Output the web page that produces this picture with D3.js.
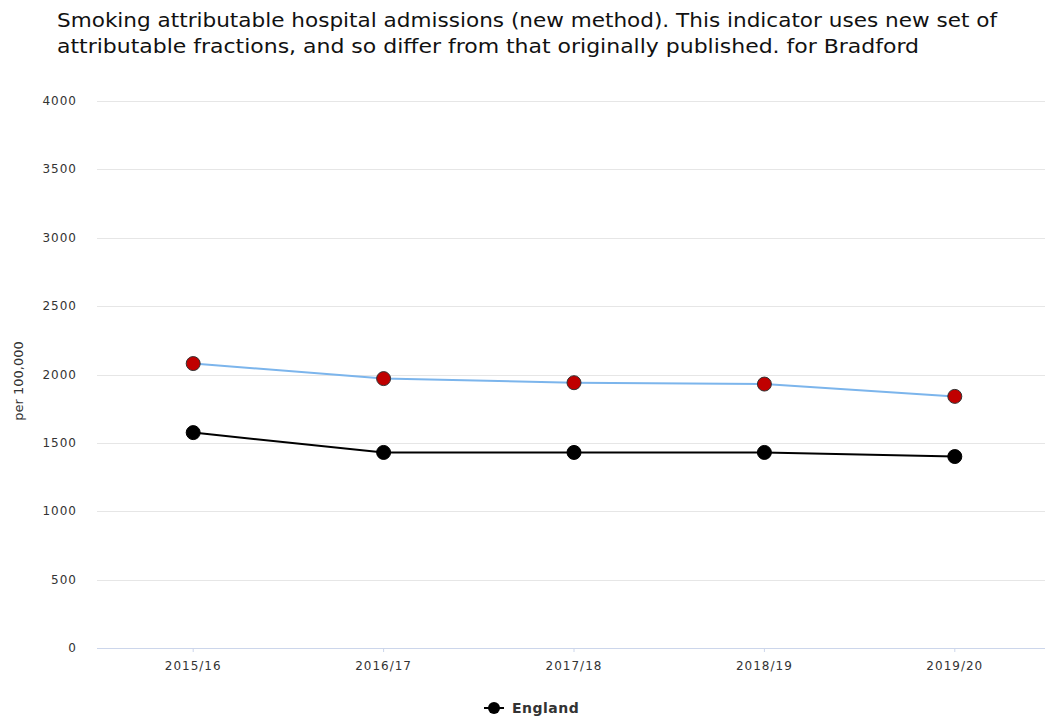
<!DOCTYPE html>
<html>
<head>
<meta charset="utf-8">
<script src="https://cdn.jsdelivr.net/npm/d3@7"></script>
<style>
  body { margin: 0; background: #fff; }
  text { font-family: "DejaVu Sans", sans-serif; }
</style>
</head>
<body>
<script>
var periods = ["2015/16", "2016/17", "2017/18", "2018/19", "2019/20"];
var bradford = [2080, 1970, 1940, 1930, 1840];
var england = [1575, 1430, 1430, 1430, 1400];
var yTicks = [0, 500, 1000, 1500, 2000, 2500, 3000, 3500, 4000];
var titleLines = [
  "Smoking attributable hospital admissions (new method). This indicator uses new set of",
  "attributable fractions, and so differ from that originally published. for Bradford"
];
var titleWidths = [940, 862];

function init() {
  var width = 1045, height = 718,
      margin = {left: 98, right: -5};

  var svg = d3.select("body").append("svg")
    .attr("width", width)
    .attr("height", height);

  svg.append("g").selectAll("text")
    .data(titleLines)
    .enter().append("text")
    .attr("x", 57)
    .attr("y", function (d, i) { return 27 + i * 26; })
    .attr("textLength", function (d, i) { return titleWidths[i]; })
    .attr("lengthAdjust", "spacingAndGlyphs")
    .style("font-size", "20px")
    .style("fill", "#111")
    .text(function (d) { return d; });

  var x = d3.scaleBand()
    .domain(periods)
    .range([margin.left, width - margin.right]);

  var y = d3.scaleLinear()
    .domain([0, 4000])
    .range([648, 101]);

  var cx = function (i) { return x(periods[i]) + x.bandwidth() / 2; };

  // grid
  svg.append("g").selectAll("line")
    .data(yTicks.slice(1))
    .enter().append("line")
    .attr("x1", 97).attr("x2", width)
    .attr("y1", function (d) { return Math.round(y(d)) + 0.5; })
    .attr("y2", function (d) { return Math.round(y(d)) + 0.5; })
    .style("stroke", "#e6e6e6");

  // y labels
  svg.append("g").selectAll("text")
    .data(yTicks)
    .enter().append("text")
    .attr("x", 77)
    .attr("y", function (d) { return y(d) + 4; })
    .attr("text-anchor", "end")
    .style("font-size", "12px")
    .style("letter-spacing", "1px")
    .style("fill", "#333")
    .text(function (d) { return d; });

  svg.append("text")
    .attr("transform", "translate(23,381) rotate(-90)")
    .attr("text-anchor", "middle")
    .style("font-size", "13px")
    .style("fill", "#333")
    .text("per 100,000");

  // x axis
  var xAxis = svg.append("g").attr("transform", "translate(0,648)");
  xAxis.append("line")
    .attr("x1", 97).attr("x2", width)
    .attr("y1", 0.5).attr("y2", 0.5)
    .style("stroke", "#ccd6eb");
  xAxis.selectAll("line.tick")
    .data(periods)
    .enter().append("line")
    .attr("class", "tick")
    .attr("x1", function (d, i) { return cx(i); })
    .attr("x2", function (d, i) { return cx(i); })
    .attr("y1", 0).attr("y2", 4)
    .style("stroke", "#ccd6eb");
  xAxis.selectAll("text")
    .data(periods)
    .enter().append("text")
    .attr("x", function (d, i) { return cx(i); })
    .attr("y", 22)
    .attr("text-anchor", "middle")
    .style("font-size", "12px")
    .style("letter-spacing", "1px")
    .style("fill", "#333")
    .text(function (d) { return d; });

  var line = d3.line()
    .x(function (d, i) { return cx(i); })
    .y(function (d) { return y(d); });

  var series = [
    {values: bradford, stroke: "#7cb5ec", fill: "#c00000", edge: "#333"},
    {values: england, stroke: "#000", fill: "#000", edge: "#000"}
  ];

  series.forEach(function (s) {
    svg.append("path")
      .attr("d", line(s.values))
      .style("fill", "none")
      .style("stroke", s.stroke)
      .style("stroke-width", 2);
    svg.append("g").selectAll("circle")
      .data(s.values)
      .enter().append("circle")
      .attr("cx", function (d, i) { return cx(i); })
      .attr("cy", function (d) { return y(d); })
      .attr("r", 7)
      .style("fill", s.fill)
      .style("stroke", s.edge)
      .style("stroke-width", 1);
  });

  // legend
  var lg = svg.append("g").attr("transform", "translate(484,708)");
  lg.append("line")
    .attr("x1", 0).attr("x2", 20)
    .attr("y1", 0).attr("y2", 0)
    .style("stroke", "#000").style("stroke-width", 2);
  lg.append("circle")
    .attr("cx", 10).attr("cy", 0).attr("r", 6)
    .style("fill", "#000");
  lg.append("text")
    .attr("x", 28).attr("y", 5)
    .style("font-size", "14px")
    .style("font-weight", "bold")
    .style("letter-spacing", "0.5px")
    .style("fill", "#333")
    .text("England");
}

init();
</script>
</body>
</html>
